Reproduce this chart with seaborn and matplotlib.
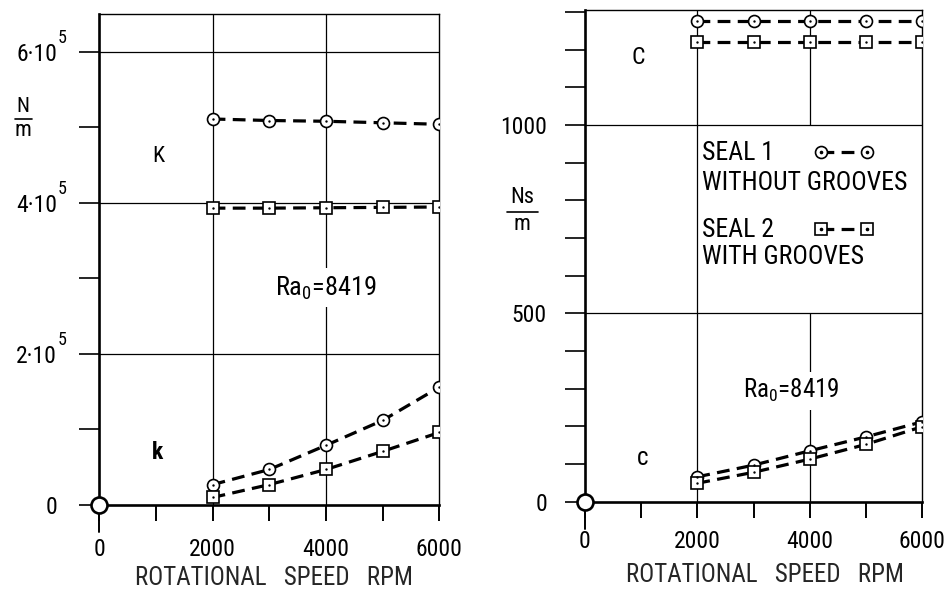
import matplotlib
matplotlib.use("Agg")
import matplotlib.pyplot as plt
import seaborn as sns
import pandas as pd
from matplotlib import font_manager
from matplotlib.lines import Line2D

# ---------------- data ----------------
rpm = [2000, 3000, 4000, 5000, 6000]
K_seal1 = [5.11e5, 5.09e5, 5.08e5, 5.06e5, 5.04e5]
K_seal2 = [3.93e5, 3.93e5, 3.935e5, 3.94e5, 3.945e5]
k_seal1 = [0.27e5, 0.47e5, 0.79e5, 1.12e5, 1.56e5]
k_seal2 = [0.10e5, 0.27e5, 0.47e5, 0.71e5, 0.96e5]
C_seal1 = [1276, 1276, 1276, 1276, 1276]
C_seal2 = [1219, 1219, 1219, 1219, 1219]
c_seal1 = [66, 97, 135, 172, 212]
c_seal2 = [49, 78, 113, 152, 199]

x_ticks = [0, 1000, 2000, 3000, 4000, 5000, 6000]
x_ticklabels = ["0", "", "2000", "", "4000", "", "6000"]
left_yticks = [0, 1e5, 2e5, 3e5, 4e5, 5e5, 6e5]
left_yticklabels = ["0", "", "2·10", "", "4·10", "", "6·10"]
right_yticks = list(range(0, 1301, 100))
right_yticklabels = ["0", "", "", "", "", "500", "", "", "", "", "1000", "", "", ""]
xlabel = "ROTATIONAL   SPEED   RPM"
ra_label = r"Ra$_\mathregular{0}$=8419"
legend_lines = ["SEAL 1", "WITHOUT GROOVES", "SEAL 2", "WITH GROOVES"]

# ---------------- style ----------------
sns.set_style("white")
names = {f.name for f in font_manager.fontManager.ttflist}
FONT = "DejaVu Sans"
for cand in ["Liberation Sans Narrow", "DejaVu Sans Condensed", "Roboto Condensed",
             "Open Sans Condensed", "Liberation Sans"]:
    if cand in names:
        FONT = cand
        break
plt.rcParams["font.family"] = [FONT, "DejaVu Sans"]
plt.rcParams["mathtext.fontset"] = "custom"
plt.rcParams["mathtext.rm"] = FONT
plt.rcParams["text.color"] = "black"

fig = plt.figure(figsize=(9.51, 5.94), dpi=100)
W, H = 951.0, 594.0
axL = fig.add_axes([99.3 / W, 1 - 505 / H, 340 / W, 491 / H])
axR = fig.add_axes([585 / W, 1 - 501.7 / H, 337 / W, 491.7 / H])

dash = (0, (4, 2.3))
line_kw = dict(color="black", linewidth=2.3, linestyle=dash,
               markerfacecolor="white", markeredgecolor="black",
               markeredgewidth=1.2)


def series(ax, y, marker, ms):
    df = pd.DataFrame({"rpm": rpm, "val": y})
    sns.lineplot(data=df, x="rpm", y="val", ax=ax, marker=marker,
                 markersize=ms, zorder=4, **line_kw)
    sns.scatterplot(data=df, x="rpm", y="val", ax=ax, s=3, color="black",
                    linewidth=0, zorder=6)


def style_axes(ax, ylim, yticks, yticklabels, ypad, xpad):
    ax.set_xlim(0, 6000)
    ax.set_ylim(*ylim)
    ax.set_xticks(x_ticks)
    ax.set_xticklabels(x_ticklabels, fontsize=17)
    ax.set_yticks(yticks)
    ax.set_yticklabels(yticklabels, fontsize=17)
    ax.tick_params(axis="y", which="major", left=True, direction="out",
                   length=14.4, width=1.2, pad=ypad, colors="black")
    ax.tick_params(axis="x", which="major", bottom=True, direction="out",
                   length=11.5, width=1.4, pad=xpad, colors="black")
    for s in ["top", "right"]:
        ax.spines[s].set_linewidth(1.0)
        ax.spines[s].set_color("black")
    for s in ["left", "bottom"]:
        ax.spines[s].set_linewidth(1.9)
        ax.spines[s].set_color("black")
    ax.set_ylabel("")
    ax.set_xlabel(xlabel, fontsize=18)
    ax.xaxis.label.set_va("center")
    # origin circle and longer zero tick
    x0, y0 = ax.get_xlim()[0], ax.get_ylim()[0]
    ax.plot([x0, x0], [0, -0.055], transform=ax.get_xaxis_transform(),
            color="black", lw=1.4, clip_on=False, zorder=5)
    ax.plot(x0, y0, marker="o", ms=11.5, mfc="white", mec="black", mew=1.9,
            clip_on=False, zorder=7)


# ---------------- left panel ----------------
series(axL, K_seal1, "o", 8.6)
series(axL, K_seal2, "s", 8.0)
series(axL, k_seal1, "o", 8.6)
series(axL, k_seal2, "s", 8.0)
style_axes(axL, (0, 6.5e5), left_yticks, left_yticklabels, 16, 12)
for yv in [2e5, 4e5, 6e5]:
    axL.axhline(yv, color="black", lw=0.9, zorder=1)
for xv in [2000, 4000]:
    axL.axvline(xv, color="black", lw=0.9, zorder=1)
axL.xaxis.set_label_coords(0.514, -0.1487)
for yv, lab in zip(left_yticks, left_yticklabels):
    if "10" in lab:
        axL.annotate("5", xy=(0, yv), xycoords=axL.get_yaxis_transform(),
                     xytext=(-30, 10), textcoords="offset points",
                     fontsize=13, ha="left", va="center")
axL.text(1038, 4.62e5, "K", fontsize=16, ha="center", va="center")
axL.text(1020, 0.69e5, "k", fontsize=17, ha="center", va="center",
         fontweight="bold")
axL.text(3100, 2.78e5, ra_label, fontsize=19, ha="left", va="baseline",
         zorder=3, bbox=dict(facecolor="white", edgecolor="none", pad=4))

# ---------------- right panel ----------------
series(axR, C_seal1, "o", 8.6)
series(axR, C_seal2, "s", 8.0)
series(axR, c_seal1, "o", 8.6)
series(axR, c_seal2, "s", 8.0)
style_axes(axR, (0, 1305), right_yticks, right_yticklabels, 13, 9)
for yv in [500, 1000]:
    axR.axhline(yv, color="black", lw=0.9, zorder=1)
axR.axvline(2000, color="black", lw=0.9, zorder=1)
axR.vlines(4000, 0, 500, color="black", lw=0.9, zorder=1)
axR.vlines(4000, 1000, 1305, color="black", lw=0.9, zorder=1)
axR.xaxis.set_label_coords(0.534, -0.149)
axR.text(944, 1178, "C", fontsize=17, ha="center", va="center")
axR.text(1033, 116, "c", fontsize=18, ha="center", va="center")
axR.text(2813, 275, ra_label, fontsize=18, ha="left", va="baseline",
         zorder=3, bbox=dict(facecolor="white", edgecolor="none", pad=4))

# legend (manual, as in the original drawing)
leg_y = [0.710, 0.648, 0.553, 0.498]
for txt, yy in zip(legend_lines, leg_y):
    axR.text(0.347, yy, txt, transform=axR.transAxes, fontsize=18.5,
             ha="left", va="center")
for yy, mk, ms in [(0.711, "o", 8.6), (0.554, "s", 8.0)]:
    axR.add_line(Line2D([0.700, 0.838], [yy, yy], transform=axR.transAxes,
                        marker=mk, markersize=ms, markevery=[0, 1], zorder=5,
                        **line_kw))
    axR.add_line(Line2D([0.700, 0.838], [yy, yy], transform=axR.transAxes,
                        linestyle="none", marker="o", markersize=1.6,
                        color="black", zorder=6))

# y-axis unit fractions
fig.text(23 / W, 1 - 107 / H, "N", fontsize=15, ha="center", va="center")
fig.add_artist(Line2D([15 / W, 32 / W], [1 - 119 / H, 1 - 119 / H],
                      color="black", lw=1.2, transform=fig.transFigure))
fig.text(23 / W, 1 - 130 / H, "m", fontsize=16, ha="center", va="center")
fig.text(522 / W, 1 - 198 / H, "Ns", fontsize=16, ha="center", va="center")
fig.add_artist(Line2D([507 / W, 538 / W], [1 - 212 / H, 1 - 212 / H],
                      color="black", lw=1.2, transform=fig.transFigure))
fig.text(522 / W, 1 - 224 / H, "m", fontsize=16, ha="center", va="center")

fig.savefig("out.png", dpi=100)
